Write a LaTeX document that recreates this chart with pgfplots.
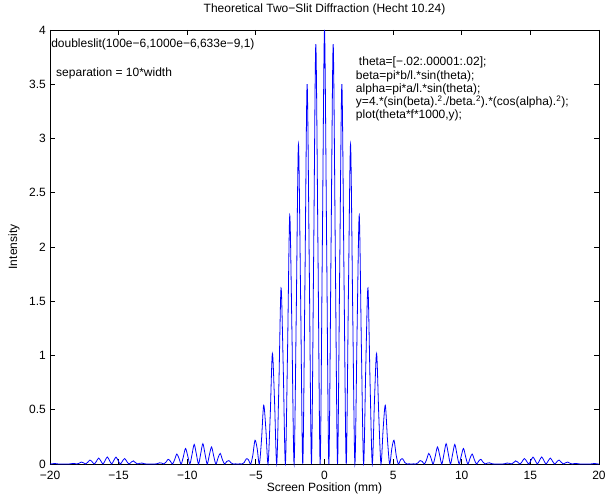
\documentclass[border=0pt]{standalone}
\usepackage{fontspec}
\setmainfont{Liberation Sans}
\usepackage{pgfplots}
\pgfplotsset{compat=1.18}
\begin{document}
\fontsize{12}{14}\selectfont
\begin{tikzpicture}
\begin{axis}[
  scale only axis, width=549pt, height=434pt,
  xmin=-20, xmax=20, ymin=0, ymax=4,
  xtick={-20,-15,...,20}, xticklabels={−20,−15,−10,−5,0,5,10,15,20},
  ytick={0,0.5,...,4}, yticklabels={0,0.5,1,1.5,2,2.5,3,3.5,4},
  tick align=inside, major tick length=5pt,
  axis line style={line width=0.8pt}, every tick/.style={black, line width=0.8pt},
  title={Theoretical Two−Slit Diffraction (Hecht 10.24)},
  xlabel={Screen Position (mm)}, ylabel={Intensity},
  tick label style={font=\fontsize{12}{14}\selectfont},
  xticklabel style={anchor=base, yshift=-16pt},
  every axis title shift=0pt,
  title style={font=\fontsize{12}{14}\selectfont, at={(axis description cs:0.5,1.0392)}, anchor=base},
  xlabel style={font=\fontsize{12}{14}\selectfont, at={(axis description cs:0.5,-0.0645)}, anchor=base},
  ylabel style={font=\fontsize{12}{14}\selectfont, at={(axis description cs:-0.0601,0.5)}, anchor=base},
  clip=false,
]
\addplot[blue, line width=0.8pt, smooth, tension=0.5] coordinates {
(-20,0.0008)
(-19.9395,0)(-19.7813,0.0030)(-19.623,0.0040)(-19.4648,0.0012)(-19.3065,0)(-19.1483,0.0001)(-18.99,0)(-18.8318,0.0001)
(-18.6735,0)(-18.5153,0.0013)(-18.357,0.0046)(-18.1988,0.0036)(-18.0405,0)(-17.8823,0.0069)(-17.724,0.0179)(-17.5658,0.0111)
(-17.4075,0)(-17.2493,0.0158)(-17.091,0.0364)(-16.9328,0.0206)(-16.7745,0)(-16.6163,0.0251)(-16.458,0.0542)(-16.2998,0.0289)
(-16.1415,0)(-15.9833,0.0316)(-15.825,0.0648)(-15.6668,0.0329)(-15.5085,0)(-15.3503,0.0326)(-15.192,0.0636)(-15.0338,0.0307)
(-14.8755,0)(-14.7173,0.0273)(-14.559,0.0501)(-14.4008,0.0226)(-14.2425,0)(-14.0843,0.0173)(-13.926,0.0289)(-13.7678,0.0117)
(-13.6095,0)(-13.4513,0.0066)(-13.293,0.0088)(-13.1348,0.0026)(-12.9765,0)(-12.8183,0.0003)(-12.66,0)(-12.5018,0.0003)
(-12.3435,0)(-12.1853,0.0030)(-12.027,0.0107)(-11.8688,0.0084)(-11.7105,0)(-11.5523,0.0166)(-11.394,0.0432)(-11.2358,0.0271)
(-11.0775,0)(-10.9193,0.0394)(-10.761,0.0918)(-10.6028,0.0525)(-10.4445,0)(-10.2863,0.0655)(-10.128,0.1432)(-9.9698,0.0772)
(-9.8115,0)(-9.6533,0.0866)(-9.495,0.1801)(-9.3368,0.0926)(-9.1785,0)(-9.0203,0.0944)(-8.862,0.1870)(-8.7038,0.0915)
(-8.5455,0)(-8.3873,0.0839)(-8.229,0.1570)(-8.0708,0.0721)(-7.9125,0)(-7.7543,0.0570)(-7.596,0.0972)(-7.4378,0.0401)
(-7.2795,0)(-7.1213,0.0234)(-6.963,0.0320)(-6.8048,0.0096)(-6.6465,0)(-6.4883,0.0012)(-6.33,0)(-6.1718,0.0013)
(-6.0135,0)(-5.8553,0.0129)(-5.697,0.0478)(-5.5388,0.0388)(-5.3805,0)(-5.2223,0.0813)(-5.064,0.2188)(-4.9058,0.1423)
(-4.7475,0)(-4.5893,0.2229)(-4.431,0.5414)(-4.2728,0.3233)(-4.1145,0)(-3.9563,0.4428)(-3.798,1.0183)(-3.6398,0.5795)
(-3.4815,0)(-3.3233,0.7307)(-3.165,1.6212)(-3.0068,0.8926)(-2.8485,0)(-2.6903,1.0608)(-2.532,2.2912)(-2.3738,1.2300)
(-2.2155,0)(-2.0573,1.3948)(-1.899,2.9474)(-1.7408,1.5494)(-1.5825,0)(-1.4243,1.6883)(-1.266,3.5006)(-1.1078,1.8065)
(-0.9495,0)(-0.7913,1.8993)(-0.633,3.8702)(-0.4748,1.9633)(-0.3165,0)(-0.1583,1.9959)
(0,4)
(0.1583,1.9959)(0.3165,0)(0.4748,1.9633)(0.633,3.8702)(0.7913,1.8993)(0.9495,0)
(1.1078,1.8065)(1.266,3.5006)(1.4243,1.6883)(1.5825,0)(1.7408,1.5494)(1.899,2.9474)(2.0573,1.3948)(2.2155,0)
(2.3738,1.2300)(2.532,2.2912)(2.6903,1.0608)(2.8485,0)(3.0068,0.8926)(3.165,1.6212)(3.3233,0.7307)(3.4815,0)
(3.6398,0.5795)(3.798,1.0183)(3.9563,0.4428)(4.1145,0)(4.2728,0.3233)(4.431,0.5414)(4.5893,0.2229)(4.7475,0)
(4.9058,0.1423)(5.064,0.2188)(5.2223,0.0813)(5.3805,0)(5.5388,0.0388)(5.697,0.0478)(5.8553,0.0129)(6.0135,0)
(6.1718,0.0013)(6.33,0)(6.4883,0.0012)(6.6465,0)(6.8048,0.0096)(6.963,0.0320)(7.1213,0.0234)(7.2795,0)
(7.4378,0.0401)(7.596,0.0972)(7.7543,0.0570)(7.9125,0)(8.0708,0.0721)(8.229,0.1570)(8.3873,0.0839)(8.5455,0)
(8.7038,0.0915)(8.862,0.1870)(9.0203,0.0944)(9.1785,0)(9.3368,0.0926)(9.495,0.1801)(9.6533,0.0866)(9.8115,0)
(9.9698,0.0772)(10.128,0.1432)(10.2863,0.0655)(10.4445,0)(10.6028,0.0525)(10.761,0.0918)(10.9193,0.0394)(11.0775,0)
(11.2358,0.0271)(11.394,0.0432)(11.5523,0.0166)(11.7105,0)(11.8688,0.0084)(12.027,0.0107)(12.1853,0.0030)(12.3435,0)
(12.5018,0.0003)(12.66,0)(12.8183,0.0003)(12.9765,0)(13.1348,0.0026)(13.293,0.0088)(13.4513,0.0066)(13.6095,0)
(13.7678,0.0117)(13.926,0.0289)(14.0843,0.0173)(14.2425,0)(14.4008,0.0226)(14.559,0.0501)(14.7173,0.0273)(14.8755,0)
(15.0338,0.0307)(15.192,0.0636)(15.3503,0.0326)(15.5085,0)(15.6668,0.0329)(15.825,0.0648)(15.9833,0.0316)(16.1415,0)
(16.2998,0.0289)(16.458,0.0542)(16.6163,0.0251)(16.7745,0)(16.9328,0.0206)(17.091,0.0364)(17.2493,0.0158)(17.4075,0)
(17.5658,0.0111)(17.724,0.0179)(17.8823,0.0069)(18.0405,0)(18.1988,0.0036)(18.357,0.0046)(18.5153,0.0013)(18.6735,0)
(18.8318,0.0001)(18.99,0)(19.1483,0.0001)(19.3065,0)(19.4648,0.0012)(19.623,0.0040)(19.7813,0.0030)(19.9395,0)
(20,0.0008)
};
\node[anchor=west, inner sep=0pt, font=\fontsize{12}{14}\selectfont] at (rel axis cs:0.002,0.9677) {doubleslit(100e−6,1000e−6,633e−9,1)};
\node[anchor=west, inner sep=0pt, font=\fontsize{12}{14}\selectfont] at (rel axis cs:0.011,0.901) {separation = 10*width};
\node[anchor=base west, inner sep=0pt, align=left, font=\fontsize{12}{13.3}\selectfont] at (rel axis cs:0.557,0.795)
 {\hspace{3pt}theta=[−.02:.00001:.02];\\
  beta=pi*b/l.*sin(theta);\\
  alpha=pi*a/l.*sin(theta);\\
  y=4.*(sin(beta).\textsuperscript{2}./beta.\textsuperscript{2}).*(cos(alpha).\textsuperscript{2});\\
  plot(theta*f*1000,y);};
\end{axis}
\pgfresetboundingbox
\path[use as bounding box] ([xshift=-50pt,yshift=-33pt]current axis.south west) rectangle ([xshift=7pt,yshift=30pt]current axis.north east);
\end{tikzpicture}
\end{document}
